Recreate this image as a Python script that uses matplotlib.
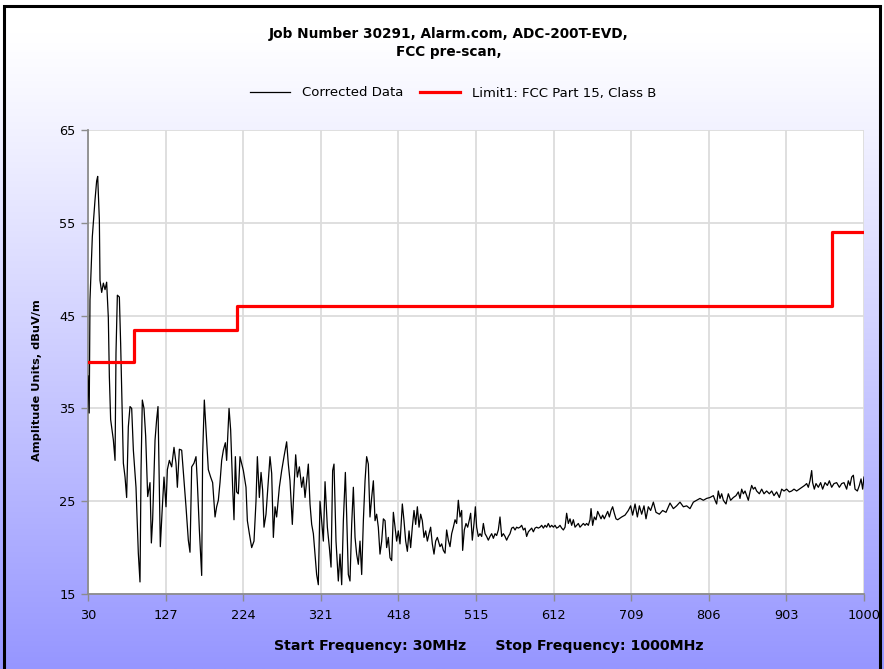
import matplotlib
matplotlib.use("Agg")
import matplotlib.pyplot as plt
import numpy as np
from matplotlib.patches import Rectangle

# ---------------- data ----------------
freq_mhz = [
    30.0, 31.5, 32.5, 35.4, 38.8, 40.8, 42.1, 44.2, 45.0, 47.1, 49.2, 51.3, 53.3, 55.4, 56.7, 58.3,
    61.7, 63.8, 65.0, 66.7, 69.2, 70.8, 72.9, 74.2, 76.3, 78.3, 80.4, 82.5, 84.6, 86.7, 90.0, 92.9,
    95.0, 96.3, 97.9, 100.0, 102.1, 104.6, 107.5, 109.2, 110.8, 113.8, 115.8, 117.5, 118.8, 120.4,
    122.5, 125.0, 127.5, 129.2, 131.7, 134.6, 137.5, 140.0, 141.7, 144.2, 147.1, 150.0, 152.5, 155.4,
    157.5, 159.6, 162.5, 165.0, 166.7, 169.2, 172.1, 173.3, 175.4, 177.5, 180.4, 183.3, 185.8, 188.8,
    190.8, 192.9, 195.0, 197.1, 199.2, 201.7, 203.3, 206.3, 208.3, 210.8, 212.5, 214.2, 215.8, 217.9,
    220.0, 224.2, 227.5, 229.2, 231.7, 234.6, 237.5, 240.0, 241.7, 244.2, 246.3, 248.3, 250.0, 252.5,
    255.4, 257.5, 259.6, 261.7, 263.8, 265.8, 269.2, 272.1, 275.0, 278.3, 280.4, 282.5, 285.4, 287.5,
    289.6, 291.7, 294.2, 297.1, 299.2, 301.3, 303.3, 305.4, 307.5, 309.6, 311.7, 313.8, 315.8, 317.9,
    320.0, 322.1, 324.2, 326.3, 329.2, 331.7, 333.8, 335.8, 337.5, 340.0, 342.9, 345.0, 347.1, 349.2,
    351.7, 353.3, 355.4, 357.5, 359.6, 361.7, 363.8, 365.8, 367.9, 370.0, 372.1, 374.2, 376.3, 378.3,
    380.4, 382.5, 384.6, 386.7, 388.8, 390.8, 392.9, 395.0, 397.1, 399.2, 401.3, 403.3, 405.4, 407.5,
    409.6, 411.7, 413.8, 415.8, 417.9, 420.0, 422.9, 425.0, 427.1, 429.2, 431.3, 433.3, 435.4, 437.5,
    439.6, 441.7, 443.8, 445.8, 447.9, 450.0, 452.1, 454.2, 456.3, 458.3, 460.4, 462.5, 464.6, 466.7,
    470.0, 472.1, 474.2, 476.3, 478.3, 480.4, 482.5, 484.6, 486.7, 488.8, 490.8, 492.9, 495.0, 497.1,
    498.3, 500.4, 502.5, 504.6, 506.7, 508.3, 510.4, 512.5, 514.2, 515.8, 517.9, 520.0, 522.1, 524.2,
    526.3, 528.3, 530.4, 532.5, 534.6, 536.7, 538.8, 540.8, 542.9, 545.0, 547.1, 549.2, 551.3, 553.3,
    555.4, 557.5, 559.6, 561.7, 563.8, 565.8, 567.9, 570.0, 572.1, 574.2, 576.3, 578.3, 580.4, 582.5,
    584.6, 586.7, 588.8, 590.8, 592.9, 595.0, 597.1, 599.2, 601.3, 603.3, 605.4, 607.5, 609.6, 611.7,
    613.8, 615.8, 617.9, 620.0, 622.1, 624.2, 626.3, 628.3, 630.4, 632.5, 634.6, 636.7, 638.8, 640.8,
    642.9, 645.0, 647.1, 649.2, 651.3, 653.3, 655.4, 657.5, 658.8, 660.8, 662.9, 665.0, 667.1, 669.2,
    671.3, 673.3, 675.4, 677.5, 679.6, 681.7, 683.8, 685.8, 687.9, 690.0, 692.1, 697.1, 701.3, 705.4,
    708.3, 710.8, 713.8, 716.7, 719.2, 722.1, 725.0, 727.5, 730.4, 733.3, 736.7, 740.0, 744.2, 748.3,
    752.5, 757.5, 761.7, 765.8, 770.0, 774.2, 778.3, 782.5, 786.7, 790.8, 795.0, 799.2, 803.3, 807.5,
    811.7, 813.8, 815.8, 817.9, 820.0, 822.1, 824.2, 827.5, 830.4, 833.3, 836.7, 840.0, 842.9, 845.0,
    847.1, 849.2, 851.3, 853.3, 855.4, 857.5, 859.6, 861.7, 863.8, 865.8, 869.2, 872.1, 875.0, 878.3,
    881.7, 884.6, 887.5, 890.8, 894.2, 897.1, 900.0, 903.3, 906.7, 909.6, 912.5, 915.8, 919.2, 922.5,
    925.8, 928.3, 930.4, 932.5, 934.6, 935.8, 937.9, 940.0, 942.9, 945.8, 948.3, 951.3, 954.2, 956.7,
    959.6, 962.5, 965.8, 969.2, 972.1, 975.0, 978.3, 980.4, 982.5, 984.6, 986.7, 988.8, 991.7, 994.2,
    996.3, 998.3, 1000.0,
]
corrected_dbuv = [
    38.5, 34.5, 46.7, 53.5, 57.5, 59.5, 60.0, 55.3, 48.8, 47.5, 48.5, 47.8, 48.6, 44.8, 38.4, 33.8,
    31.6, 29.4, 41.0, 47.2, 47.0, 42.0, 33.8, 29.1, 27.6, 25.4, 33.0, 35.2, 35.0, 30.5, 26.5, 19.4,
    16.3, 28.4, 35.9, 35.0, 32.0, 25.5, 27.0, 20.5, 23.0, 31.6, 33.8, 35.2, 28.4, 20.1,
    23.7, 27.6, 24.4, 28.4, 29.4, 28.7, 30.8, 29.1, 26.5, 30.6, 30.5, 27.3, 24.4, 20.8,
    19.5, 28.7, 29.1, 29.8, 27.0, 21.9, 17.0, 30.0, 35.9, 32.7, 28.4, 27.6, 27.0, 23.3,
    24.4, 25.1, 27.0, 29.4, 30.5, 31.3, 29.4, 35.0, 32.7, 26.5, 23.0, 29.8, 26.0, 25.8,
    29.8, 28.3, 26.5, 22.9, 21.5, 20.0, 20.7, 25.0, 29.8, 25.4, 28.1, 26.2, 22.2, 23.6,
    27.2, 29.8, 28.0, 21.1, 24.4, 23.3, 26.5, 28.3, 29.8, 31.4, 29.0, 27.2, 22.5, 26.5,
    30.0, 27.6, 28.7, 26.5, 27.6, 25.4, 27.2, 29.0, 24.7, 22.5, 21.5, 19.3, 17.1, 16.0,
    25.0, 22.9, 20.7, 27.1, 22.2, 20.0, 17.9, 28.3, 29.0, 20.7, 16.4, 19.3, 16.0, 22.9,
    28.1, 23.6, 17.1, 16.4, 22.5, 26.5, 21.1, 19.3, 18.2, 20.7, 17.1, 22.9, 27.2, 29.8,
    29.0, 23.3, 25.4, 27.2, 22.9, 23.6, 22.2, 19.3, 20.7, 23.1, 22.9, 20.0, 21.1, 18.9,
    18.6, 23.8, 22.2, 20.7, 21.8, 20.4, 24.7, 22.9, 20.7, 19.6, 21.8, 20.0, 22.2, 24.0,
    22.5, 24.4, 22.2, 23.6, 22.9, 21.1, 21.8, 20.7, 21.5, 22.2, 20.4, 19.3, 20.7, 21.1,
    20.1, 20.4, 19.7, 19.4, 21.9, 20.8, 20.1, 21.5, 22.2, 23.0, 22.6, 25.1, 23.3, 24.0,
    19.7, 21.9, 22.6, 22.2, 23.0, 23.7, 20.8, 22.6, 24.4, 22.2, 21.2, 21.5, 21.2, 22.6,
    21.5, 21.2, 20.8, 21.2, 21.5, 21.0, 21.5, 21.3, 21.9, 23.3, 21.2, 21.5, 21.2, 20.8,
    21.2, 21.5, 22.1, 22.2, 21.9, 22.2, 22.1, 22.2, 22.4, 21.9, 22.1, 21.2, 21.7, 21.9,
    22.1, 21.7, 22.1, 22.2, 22.1, 22.2, 22.4, 22.1, 22.4, 22.2, 22.6, 22.2, 22.4, 22.2,
    22.4, 22.1, 22.2, 22.4, 22.1, 21.9, 22.2, 23.7, 22.6, 23.1, 22.4, 23.0, 22.2, 22.4,
    22.6, 22.2, 22.4, 22.6, 22.4, 22.6, 22.4, 23.0, 24.2, 22.4, 23.3, 23.0, 23.9, 23.5,
    23.1, 23.5, 23.1, 23.5, 23.9, 23.3, 24.0, 24.4, 23.7, 23.1, 23.0, 23.3, 23.5, 24.0,
    24.5, 23.5, 24.7, 23.3, 24.5, 23.6, 24.5, 23.1, 24.4, 24.0, 24.9, 23.8, 23.6, 24.0,
    23.8, 24.8, 24.2, 24.5, 24.9, 24.4, 24.5, 24.2, 24.9, 25.1, 25.3, 25.1, 25.3, 25.4,
    25.6, 25.1, 24.7, 26.1, 25.3, 25.8, 25.1, 24.7, 25.8, 25.1, 25.4, 25.6, 26.0, 25.3,
    26.3, 25.8, 26.1, 25.6, 25.1, 26.0, 26.7, 26.3, 26.5, 26.1, 25.8, 26.3, 25.8, 26.1,
    25.8, 26.1, 25.6, 26.0, 25.4, 26.3, 26.1, 26.3, 26.0, 26.1, 26.3, 26.1, 26.3, 26.5,
    26.7, 26.9, 26.5, 27.2, 28.3, 27.0, 26.3, 26.9, 26.5, 27.0, 26.3, 27.0, 26.7, 27.2,
    26.5, 26.9, 27.0, 26.5, 26.9, 27.0, 26.3, 27.2, 26.7, 27.6, 27.8, 26.3, 26.1, 26.7,
    27.4, 26.3, 27.6,
]

limit_freq = [30, 88, 216, 960, 1000]
limit_dbuv = [40, 43.5, 46, 54, 54]

x_ticks = [30, 127, 224, 321, 418, 515, 612, 709, 806, 903, 1000]
y_ticks = [15, 25, 35, 45, 55, 65]

title_text = "Job Number 30291, Alarm.com, ADC-200T-EVD,\nFCC pre-scan,"
series_labels = ["Corrected Data", "Limit1: FCC Part 15, Class B"]
y_label = "Amplitude Units, dBuV/m"
x_label = "Start Frequency: 30MHz      Stop Frequency: 1000MHz"

# ---------------- figure ----------------
W, H = 884, 669
fig = plt.figure(figsize=(W / 100, H / 100), dpi=100)

# background gradient
bg = fig.add_axes([0, 0, 1, 1], zorder=-10)
t = np.linspace(0, 1, 400)[:, None]
ramp = np.clip((t - 0.05) / 0.95, 0, 1) ** 1.1
top = np.array([1.0, 1.0, 1.0])
bot = np.array([150 / 255, 150 / 255, 1.0])
grad = top[None, None, :] * (1 - ramp[..., None]) + bot[None, None, :] * ramp[..., None]
grad = np.repeat(grad, 2, axis=1)
bg.imshow(grad, aspect="auto", extent=[0, 1, 0, 1], origin="upper")
bg.set_axis_off()
bg.add_patch(Rectangle((4 / W, -0.01), (880 - 4) / W, 1 - 6 / H + 0.01,
                       transform=bg.transAxes, fill=False, ec="black", lw=2.2))
bg.set_xlim(0, 1)
bg.set_ylim(0, 1)

left, right, top_px, bottom_px = 88, 864, 130, 594
ax = fig.add_axes([left / W, 1 - bottom_px / H, (right - left) / W, (bottom_px - top_px) / H])
ax.set_facecolor("white")

l1, = ax.plot(freq_mhz, corrected_dbuv, color="black", lw=0.9, zorder=3)
l2, = ax.plot(limit_freq, limit_dbuv, color="#ff0000", lw=2.3, drawstyle="steps-post", zorder=4)

ax.set_xlim(30, 1000)
ax.set_ylim(15, 65)
ax.set_xticks(x_ticks)
ax.set_yticks(y_ticks)
ax.grid(True, color="#dcdcdc", lw=1.3, zorder=0)
ax.set_axisbelow(True)
for s in ["top", "right"]:
    ax.spines[s].set_visible(False)
for s in ["left", "bottom"]:
    ax.spines[s].set_color("#8c8c8c")
    ax.spines[s].set_linewidth(1.3)
ax.tick_params(axis="both", colors="#8c8c8c", labelcolor="black", labelsize=9.3, length=5, width=1)
ax.tick_params(axis="x", pad=6)
ax.tick_params(axis="y", pad=4)

fig.text(449 / W, 1 - 43 / H, title_text, ha="center", va="center", fontsize=9.8,
         fontweight="bold", linespacing=1.3)

fig.legend([l1, l2], series_labels, loc="center", bbox_to_anchor=(453 / W, 1 - 93 / H),
           ncol=2, frameon=False, fontsize=9.5, handlelength=3.0, columnspacing=1.3,
           handletextpad=0.9)

fig.text(37 / W, 1 - 380 / H, y_label, rotation=90, ha="center", va="center",
         fontsize=8.2, fontweight="bold")
fig.text(489 / W, 1 - 646 / H, x_label, ha="center", va="center",
         fontsize=10.2, fontweight="bold")

fig.savefig("out.png", dpi=100)
